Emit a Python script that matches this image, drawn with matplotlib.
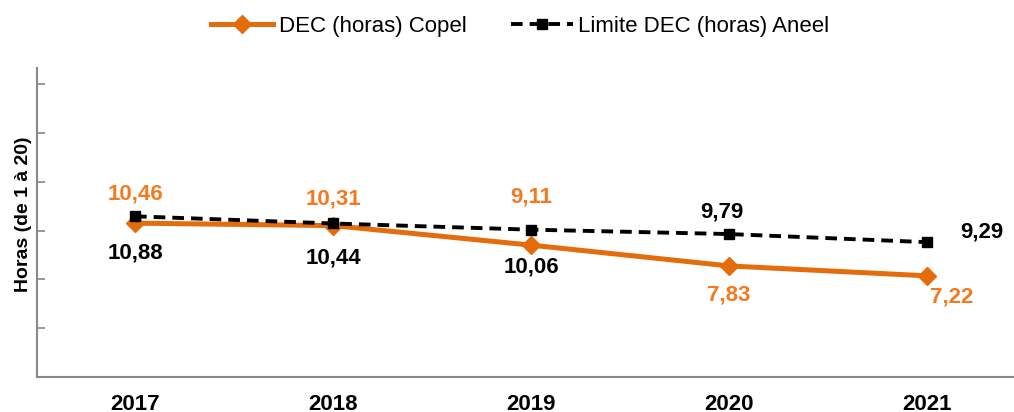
import matplotlib.pyplot as plt
import numpy as np

plt.rcParams['font.family'] = ['Liberation Sans', 'DejaVu Sans']

# data
anos = ['2017', '2018', '2019', '2020', '2021']
dec_copel = [10.46, 10.31, 9.11, 7.83, 7.22]
dec_limite = [10.88, 10.44, 10.06, 9.79, 9.29]
rot_copel = ['10,46', '10,31', '9,11', '7,83', '7,22']
rot_limite = ['10,88', '10,44', '10,06', '9,79', '9,29']

# label offsets in pixels (dx, dy)
off_copel = [(0, 29), (0, 27), (0, 48), (0, -29), (25, -21)]
off_limite = [(0, -37), (0, -35), (0, -37), (-7, 22), (55, 10)]

cor_linha = '#E46C0A'
cor_rot = '#F47A20'

fig = plt.figure(figsize=(10.14, 4.12), dpi=100)
ax = fig.add_axes([37 / 1014, 35 / 412, 1 - 37 / 1014, (377 - 68) / 412])

x = np.arange(len(anos))
ax.plot(x, dec_copel, color=cor_linha, lw=3.6, marker='D', ms=9,
        label='DEC (horas) Copel', zorder=3)
ax.plot(x, dec_limite, color='black', lw=2.8, ls=(0, (3, 1.8)), marker='s', ms=7,
        label='Limite DEC (horas) Aneel', zorder=4)

for i in range(len(anos)):
    ax.annotate(rot_copel[i], (x[i], dec_copel[i]), xytext=off_copel[i],
                textcoords='offset pixels', ha='center', va='center',
                color=cor_rot, fontsize=16, fontweight='bold')
    ax.annotate(rot_limite[i], (x[i], dec_limite[i]), xytext=off_limite[i],
                textcoords='offset pixels', ha='center', va='center',
                color='black', fontsize=16, fontweight='bold')

ax.set_ylim(1, 20)
ax.set_yticks(np.arange(1, 20, 3))
ax.set_yticklabels([])
ax.set_xlim(-0.495, 4.44)
ax.set_xticks(x)
ax.set_xticklabels(anos, fontsize=16, fontweight='bold')
ax.tick_params(axis='x', length=0, pad=12)
ax.tick_params(axis='y', direction='in', length=6, color='#888888', width=1.2)
for s in ['top', 'right']:
    ax.spines[s].set_visible(False)
for s in ['left', 'bottom']:
    ax.spines[s].set_color('#888888')
    ax.spines[s].set_linewidth(1.5)

ax.set_ylabel('Horas (de 1 à 20)', fontsize=14, fontweight='bold')
ax.yaxis.set_label_coords(-5 / 977, 0.527)

fig.legend(loc='upper center', bbox_to_anchor=(0.513, 1.01), ncol=2, frameon=False,
           fontsize=16, handlelength=2.8, columnspacing=2.0, handletextpad=0.25)

fig.savefig('out.png', dpi=100)
